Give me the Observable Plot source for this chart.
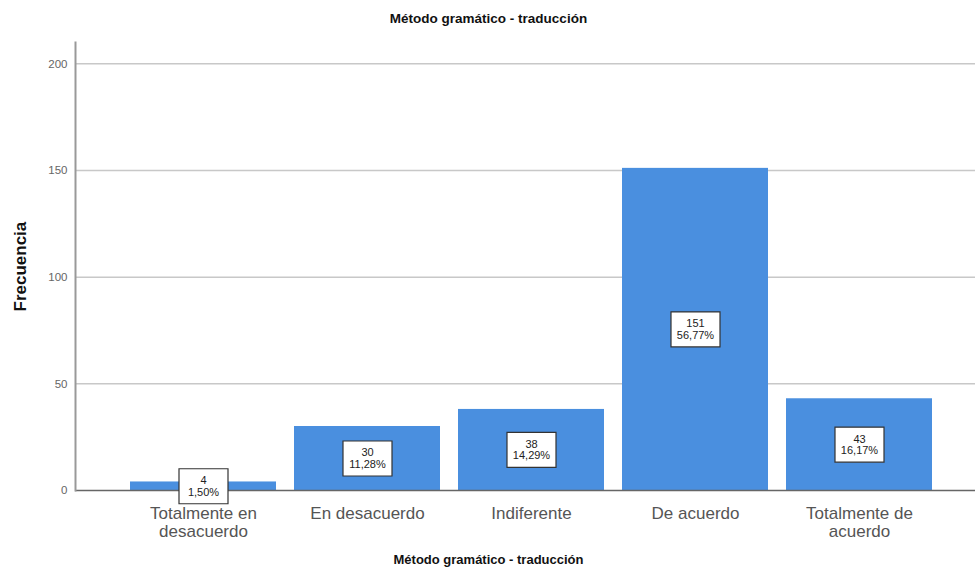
<!DOCTYPE html>
<html>
<head>
<meta charset="utf-8">
<script src="https://cdn.jsdelivr.net/npm/d3@7"></script>
<script src="https://cdn.jsdelivr.net/npm/@observablehq/plot@0.6"></script>
<style>
  html, body { margin: 0; padding: 0; background: #fff; }
  svg { display: block; }
</style>
</head>
<body>
<div id="chart"></div>
<script>
const categories = ["Totalmente en\ndesacuerdo", "En desacuerdo", "Indiferente", "De acuerdo", "Totalmente de\nacuerdo"];
const counts = [4, 30, 38, 151, 43];
const percents = ["1,50%", "11,28%", "14,29%", "56,77%", "16,17%"];
const yTicks = [0, 50, 100, 150, 200];
const gridTicks = [50, 100, 150, 200];
const title = "Método gramático - traducción";
const xTitle = "Método gramático - traducción";
const yTitle = "Frecuencia";

const data = categories.map((c, i) => ({cat: c, n: counts[i], pct: percents[i]}));

const boxSymbol = {
  draw(ctx) {
    ctx.moveTo(-24.5, -17.5);
    ctx.lineTo(24.5, -17.5);
    ctx.lineTo(24.5, 17.5);
    ctx.lineTo(-24.5, 17.5);
    ctx.closePath();
  }
};

const font = "Liberation Sans, Arial, sans-serif";

const chart = Plot.plot({
  width: 975,
  height: 576,
  marginLeft: 75,
  marginRight: 0,
  marginTop: 42,
  marginBottom: 86,
  style: {fontFamily: font, background: "#fff"},
  x: {domain: categories, paddingInner: 0.107, paddingOuter: 0.287, align: 0.56},
  y: {domain: [0, 210]},
  marks: [
    Plot.gridY(gridTicks, {stroke: "#c8c8c8", strokeOpacity: 1, strokeWidth: 1.5}),
    Plot.barY(data, {x: "cat", y: "n", fill: "#4a8fdf"}),
    Plot.ruleY([0], {stroke: "#666", strokeWidth: 1.5}),
    Plot.frame({anchor: "left", stroke: "#999", strokeWidth: 2}),
    Plot.axisY(yTicks, {tickSize: 0, tickPadding: 8, fontSize: 11.5, color: "#666", label: null}),
    Plot.axisX({tickSize: 0, tickPadding: 15, fontSize: 17, color: "#555", lineHeight: 1.08, label: null}),
    Plot.dot(data, {x: "cat", y: d => d.n / 2, symbol: boxSymbol, r: 10, fill: "#fff", stroke: "#333", strokeWidth: 1.2}),
    Plot.text(data, {x: "cat", y: d => d.n / 2, text: d => d.n + "\n" + d.pct, fontSize: 11, fill: "#222", lineHeight: 1.05}),
    Plot.text([title], {text: d => d, frameAnchor: "top", dx: -37, dy: -29, fontSize: 13.5, fontWeight: "bold", fill: "#111"}),
    Plot.text([xTitle], {text: d => d, frameAnchor: "bottom", dx: -37, dy: 73, fontSize: 13, fontWeight: "bold", fill: "#111"}),
    Plot.text([yTitle], {text: d => d, frameAnchor: "left", rotate: -90, dx: -55, dy: 45, fontSize: 17, fontWeight: "bold", fill: "#111"})
  ]
});
document.getElementById("chart").appendChild(chart);
</script>
</body>
</html>
